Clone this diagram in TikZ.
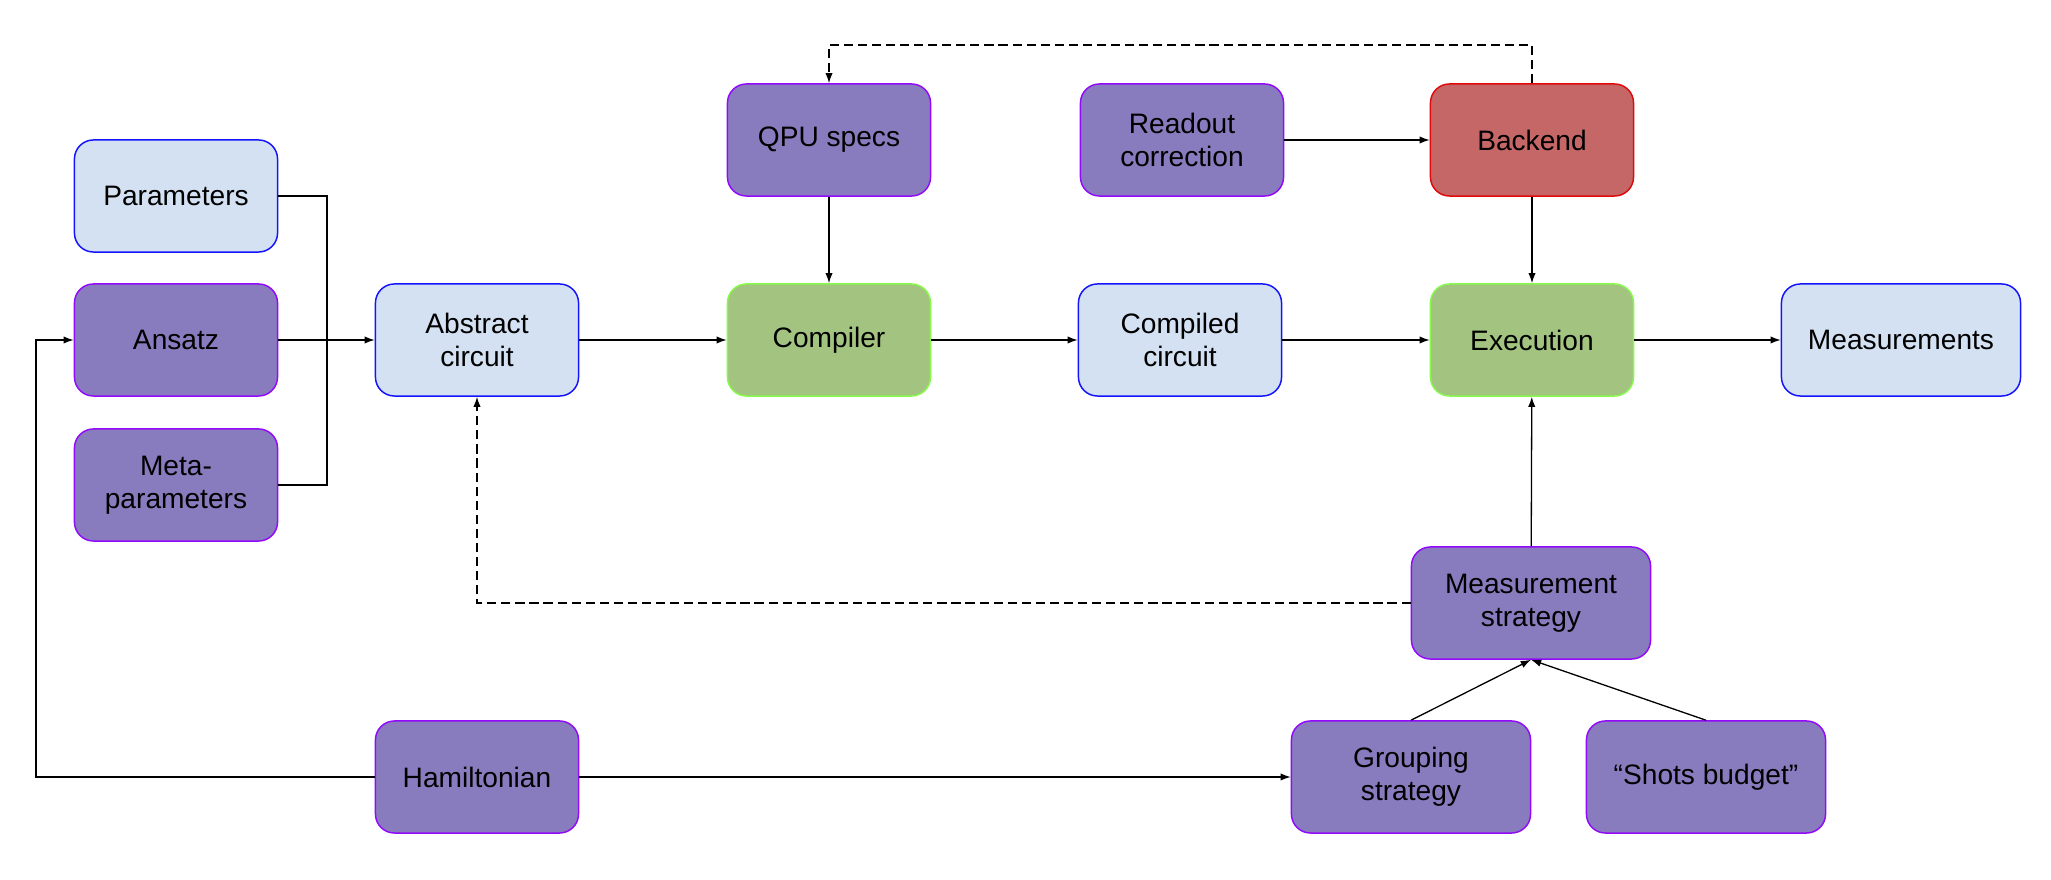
\documentclass[tikz,border=0pt]{standalone}
\usepackage{fontspec}
\setmainfont{Liberation Sans}
\usetikzlibrary{arrows.meta}

\definecolor{datafill}{RGB}{212,225,242}
\definecolor{dataline}{RGB}{20,20,250}
\definecolor{setfill}{RGB}{137,124,190}
\definecolor{setline}{RGB}{145,10,250}
\definecolor{stagefill}{RGB}{162,196,128}
\definecolor{stageline}{RGB}{135,250,75}
\definecolor{backfill}{RGB}{197,103,103}
\definecolor{backline}{RGB}{225,10,10}

\begin{document}
\begin{tikzpicture}
        [x=0.01cm, y=-0.01cm,
         every node/.style={
             draw,
             rounded corners=0.19cm,
             line width=0.42pt,
             minimum width=2.03cm,
             minimum height=1.12cm,
             align=center,
             inner sep=2pt,
             font=\fontsize{8}{9.4}\selectfont
         },
         data/.style={fill=datafill, draw=dataline},
         setting/.style={fill=setfill, draw=setline},
         stage/.style={fill=stagefill, draw=stageline},
         device/.style={fill=backfill, draw=backline},
         wide/.style={minimum width=2.39cm},
         link/.style={
             line width=0.37pt,
             -{Latex[length=2.9pt,width=2.1pt]}
         },
         feedback/.style={link, dash pattern=on 2.6pt off 1.4pt}
         ]
        \useasboundingbox (0,0) rectangle (2051,880);

        % inputs on the left
        \node[data] (params) at (176,196) {Parameters};
        \node[setting] (ansatz) at (176,340) {Ansatz};
        \node[setting] (meta) at (176,485) {Meta-\\parameters};

        % main line
        \node[data] (abstract) at (477,340) {Abstract\\circuit};
        \node[stage] (compiler) at (829,340) {Compiler};
        \node[data] (compiled) at (1180,340) {Compiled\\circuit};
        \node[stage] (exec) at (1532,340) {Execution};
        \node[data, wide] (meas) at (1901,340) {Measurements};

        % top row
        \node[setting] (qpu) at (829,140) {QPU specs};
        \node[setting] (readout) at (1182,140) {Readout\\correction};
        \node[device] (backend) at (1532,140) {Backend};

        % measurement side
        \node[setting, wide] (strategy) at (1531,603) {Measurement\\strategy};
        \node[setting] (ham) at (477,777) {Hamiltonian};
        \node[setting, wide] (grouping) at (1411,777) {Grouping\\strategy};
        \node[setting, wide] (shots) at (1706,777) {“Shots budget”};

        \coordinate (bus) at (327,340);
        \coordinate (hloop) at (36,777);
        \coordinate (top) at (0,45);

        \draw[line width=0.37pt] (params.east) -| (bus);
        \draw[line width=0.37pt] (meta.east) -| (bus);
        \draw[link] (ansatz) -- (abstract);
        \draw[link] (abstract) -- (compiler);
        \draw[link] (compiler) -- (compiled);
        \draw[link] (compiled) -- (exec);
        \draw[link] (exec) -- (meas);
        \draw[link] (qpu) -- (compiler);
        \draw[link] (readout) -- (backend);
        \draw[link] (backend) -- (exec);
        \draw[link] (strategy) -- (exec);
        \draw[link] (grouping.north) -- (strategy.south);
        \draw[link] (shots.north) -- (strategy.south);
        \draw[link] (ham) -- (grouping);
        \draw[link] (ham.west) -- (hloop) |- (ansatz.west);
        \draw[feedback] (backend.north) -- (backend.north |- top) -| (qpu.north);
        \draw[feedback] (strategy.west) -| (abstract.south);
    \end{tikzpicture}
\end{document}
